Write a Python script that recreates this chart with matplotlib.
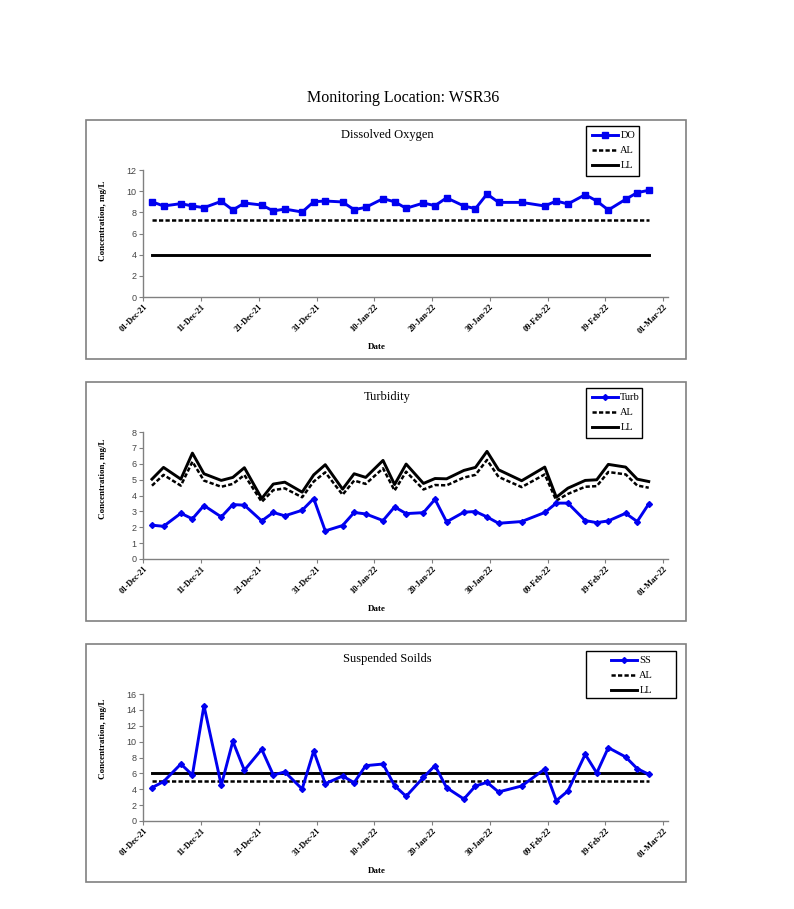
import pandas as pd
import matplotlib
matplotlib.use('Agg')
from matplotlib import pyplot as plt
from matplotlib.patches import Rectangle
import matplotlib.dates as mdates

# sampling dates
dates = ['2021-12-02', '2021-12-04', '2021-12-07', '2021-12-09', '2021-12-11',
         '2021-12-14', '2021-12-16', '2021-12-18', '2021-12-21', '2021-12-23',
         '2021-12-25', '2021-12-28', '2021-12-30', '2022-01-01', '2022-01-04',
         '2022-01-06', '2022-01-08', '2022-01-11', '2022-01-13', '2022-01-15',
         '2022-01-18', '2022-01-20', '2022-01-22', '2022-01-25', '2022-01-27',
         '2022-01-29', '2022-01-31', '2022-02-04', '2022-02-08', '2022-02-10',
         '2022-02-12', '2022-02-15', '2022-02-17', '2022-02-19', '2022-02-22',
         '2022-02-24', '2022-02-26']

do_vals = [9.0, 8.6, 8.82, 8.6, 8.44, 9.04, 8.22, 8.88, 8.69, 8.13, 8.31, 8.03,
           9.0, 9.07, 8.98, 8.25, 8.47, 9.29, 9.0, 8.38, 8.88, 8.63, 9.37, 8.6,
           8.35, 9.73, 8.94, 8.94, 8.6, 9.07, 8.79, 9.67, 9.07, 8.22, 9.23, 9.86,
           10.08]
do_al = 7.3
do_ll = 4.0

turb_vals = [2.13, 2.06, 2.88, 2.53, 3.37, 2.65, 3.43, 3.39, 2.4, 2.93, 2.72,
             3.07, 3.81, 1.77, 2.11, 2.93, 2.84, 2.42, 3.28, 2.86, 2.92, 3.76,
             2.34, 2.95, 2.99, 2.65, 2.25, 2.36, 2.93, 3.52, 3.52, 2.42, 2.29,
             2.4, 2.88, 2.36, 3.47]
turb_al = [4.62, 5.3, 4.62, 6.13, 4.94, 4.55, 4.73, 5.29, 3.6, 4.34, 4.45, 3.89,
           4.88, 5.46, 4.05, 4.94, 4.73, 5.71, 4.31, 5.5, 4.38, 4.66, 4.64, 5.13,
           5.3, 6.24, 5.17, 4.53, 5.33, 3.68, 4.1, 4.55, 4.59, 5.48, 5.33, 4.63,
           4.49]
turb_ll = [5.03, 5.77, 5.03, 6.67, 5.37, 4.95, 5.14, 5.75, 3.81, 4.72, 4.84,
           4.21, 5.3, 5.94, 4.4, 5.37, 5.14, 6.21, 4.69, 5.98, 4.76, 5.07, 5.05,
           5.58, 5.77, 6.78, 5.62, 4.93, 5.79, 3.89, 4.46, 4.95, 4.99, 5.96, 5.79,
           5.03, 4.88]

ss_vals = [4.2, 4.96, 7.18, 5.8, 14.54, 4.5, 10.04, 6.39, 9.03, 5.8, 6.18, 4.03,
           8.82, 4.7, 5.67, 4.83, 6.97, 7.18, 4.45, 3.11, 5.5, 6.98, 4.2, 2.77,
           4.41, 4.87, 3.66, 4.41, 6.55, 2.56, 3.78, 8.4, 6.05, 9.24, 8.07, 6.6,
           5.88]
ss_al = 5.0
ss_ll = 6.0

W, H = 794, 909
SERIF = 'Liberation Serif'
SANS = 'Liberation Sans'
BLUE = '#0000f0'
GRAY = '#808080'

x = pd.to_datetime(dates) + pd.Timedelta(hours=12)


def frac(left, top, right, bottom):
    return [left / W, 1 - bottom / H, (right - left) / W, (bottom - top) / H]


fig = plt.figure(figsize=(W / 100, H / 100), dpi=100)
fig.text(403 / W, 1 - 97.5 / H, 'Monitoring Location: WSR36', ha='center',
         va='center', family=SERIF, fontsize=11.5)

# leg = (box left, top, right, bottom, legend anchor x) in pixels
panels = [
    dict(title='Dissolved Oxygen', box=(120, 359), ax=(170, 297), ymax=12,
         ystep=2, vals=do_vals, al=do_al, ll=do_ll, name='DO', marker='s',
         ms=4.5, ylab_y=0.6, leg=(585.7, 125.7, 639, 176, 588)),
    dict(title='Turbidity', box=(382, 621), ax=(432, 559), ymax=8, ystep=1,
         vals=turb_vals, al=turb_al, ll=turb_ll, name='Turb', marker='D',
         ms=3.0, ylab_y=0.63, leg=(585.7, 387.7, 642, 438, 588)),
    dict(title='Suspended Soilds', box=(644, 882), ax=(694, 821), ymax=16,
         ystep=2, vals=ss_vals, al=ss_al, ll=ss_ll, name='SS', marker='D',
         ms=3.0, ylab_y=0.65, leg=(585.7, 650.7, 676, 698, 607)),
]

x0 = pd.Timestamp('2021-12-01')
x1 = pd.Timestamp('2022-03-01') + pd.Timedelta(hours=20)
ticks = pd.date_range('2021-12-01', '2022-03-01', freq='10D')

for p in panels:
    btop, bbot = p['box']
    fig.patches.append(Rectangle((86 / W, 1 - bbot / H), 600 / W,
                                 (bbot - btop) / H, transform=fig.transFigure,
                                 fill=False, edgecolor=GRAY, lw=1.2))
    fig.text(387 / W, 1 - (btop + 15) / H, p['title'], ha='center',
             va='center', family=SERIF, fontsize=9)

    atop, abot = p['ax']
    ax = fig.add_axes(frac(143.3, atop, 668, abot))
    al = p['al'] if isinstance(p['al'], list) else [p['al']] * len(x)
    ll = p['ll'] if isinstance(p['ll'], list) else [p['ll']] * len(x)

    ax.plot(x, p['vals'], color=BLUE, lw=2.1, marker=p['marker'],
            ms=p['ms'], label=p['name'], zorder=4)
    ax.plot(x, al, color='black', lw=1.8, ls=(0, (1.7, 0.9)), label='AL',
            zorder=3)
    ax.plot(x, ll, color='black', lw=2.1, label='LL', zorder=3)

    ax.set_xlim(x0, x1)
    ax.set_ylim(0, p['ymax'])
    ax.set_yticks(range(0, p['ymax'] + 1, p['ystep']))
    ax.set_xticks(ticks)
    ax.xaxis.set_major_formatter(mdates.DateFormatter('%d-%b-%y'))
    for s in ['top', 'right']:
        ax.spines[s].set_visible(False)
    for s in ['left', 'bottom']:
        ax.spines[s].set_color(GRAY)
        ax.spines[s].set_linewidth(1)
    ax.tick_params(axis='both', direction='out', length=3, color=GRAY,
                   width=0.8)
    ax.tick_params(axis='y', labelsize=6.5, labelcolor='#444444', pad=2)
    for lab in ax.get_yticklabels():
        lab.set_family(SANS)
    ax.tick_params(axis='x', pad=1)
    for lab in ax.get_xticklabels():
        lab.set_family(SERIF)
        lab.set_fontsize(6)
        lab.set_fontweight('bold')
        lab.set_rotation(45)
        lab.set_ha('right')
        lab.set_va('top')
        lab.set_rotation_mode('anchor')

    ax.set_ylabel('Concentration, mg/L', family=SERIF, fontsize=6.5,
                  fontweight='bold')
    ax.yaxis.set_label_coords(-0.069, p['ylab_y'])
    ax.set_xlabel('Date', family=SERIF, fontsize=6.5, fontweight='bold')
    ax.xaxis.set_label_coords(0.445, -0.365)

    lx0, ly0, lx1, ly1, anchor_x = p['leg']
    fig.patches.append(Rectangle((lx0 / W, 1 - ly1 / H), (lx1 - lx0) / W,
                                 (ly1 - ly0) / H, transform=fig.transFigure,
                                 fill=False, edgecolor='black', lw=1.0,
                                 zorder=5))
    ax.legend(loc='upper left', bbox_to_anchor=(anchor_x / W, 1 - (ly0 + 1) / H),
              bbox_transform=fig.transFigure, prop={'family': SERIF, 'size': 7.5},
              frameon=False, handlelength=2.5, handletextpad=0.2,
              labelspacing=0.55, borderpad=0.4, borderaxespad=0)

plt.savefig('out.png', dpi=100)
